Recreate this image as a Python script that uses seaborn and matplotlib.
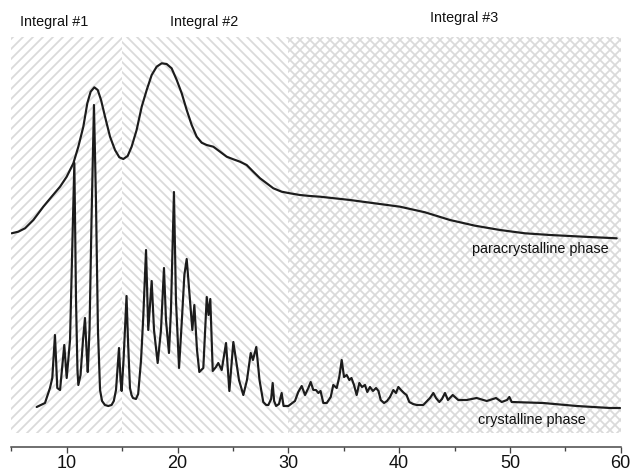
import matplotlib
matplotlib.use("Agg")
import matplotlib.pyplot as plt
import seaborn as sns
import pandas as pd

# ---- data (2-theta in degrees, intensity in arbitrary units) ----
two_theta_para = [5.03, 5.63, 6.24, 6.99, 7.89, 8.64, 9.40, 10.00, 10.60, 11.05,
                  11.50, 11.86, 12.16, 12.49, 12.80, 13.10, 13.46, 13.91, 14.36, 14.75,
                  15.11, 15.50, 15.86, 16.31, 16.77, 17.22, 17.67, 18.12, 18.57, 19.02,
                  19.47, 19.93, 20.38, 20.83, 21.28, 21.73, 22.18, 22.63, 23.23, 23.84,
                  24.44, 25.04, 25.64, 26.24, 26.84, 27.45, 28.05, 28.65, 29.40, 30.15,
                  31.05, 31.96, 32.86, 35.57, 40.08, 42.34, 44.59, 46.85, 49.11, 51.36,
                  53.62, 56.63, 59.64]
intensity_para = [201.7, 203.3, 206.7, 215.0, 228.3, 238.3, 248.3, 258.3, 271.7, 288.3,
                  308.3, 331.7, 343.3, 347.7, 345.0, 335.0, 318.3, 298.3, 285.0, 277.7,
                  276.0, 279.0, 288.3, 305.0, 328.3, 345.0, 360.0, 368.3, 371.7, 371.0,
                  366.7, 355.0, 341.7, 325.0, 310.0, 298.3, 292.3, 290.0, 288.3, 283.3,
                  278.3, 275.7, 273.3, 270.0, 263.3, 256.7, 251.7, 246.7, 243.3, 241.7,
                  240.0, 239.0, 238.3, 235.0, 228.3, 222.7, 215.0, 209.3, 205.0, 201.7,
                  200.0, 198.3, 196.7]

two_theta_cryst = [7.29, 8.04, 8.49, 8.70, 8.94, 9.15, 9.40, 9.78, 10.00, 10.30,
                   10.48, 10.69, 10.84, 10.97, 11.05, 11.25, 11.47, 11.65, 11.79, 11.90,
                   12.06, 12.24, 12.46, 12.64, 12.82, 13.01, 13.19, 13.45, 13.75, 14.05,
                   14.25, 14.45, 14.72, 14.86, 14.96, 15.13, 15.40, 15.53, 15.71, 15.85,
                   15.98, 16.25, 16.45, 16.71, 16.91, 17.16, 17.36, 17.67, 17.88, 18.21,
                   18.51, 18.78, 18.96, 19.23, 19.41, 19.68, 19.86, 20.14, 20.41, 20.62,
                   20.83, 21.13, 21.34, 21.52, 21.76, 21.97, 22.33, 22.64, 22.80, 22.96,
                   23.18, 23.47, 23.68, 23.99, 24.38, 24.68, 25.04, 25.28, 25.55, 25.94,
                   26.27, 26.61, 26.81, 27.11, 27.40, 27.74, 28.00, 28.20, 28.45, 28.59,
                   28.72, 28.90, 29.16, 29.40, 29.57, 30.00, 30.60, 30.90, 31.21, 31.51,
                   31.81, 32.02, 32.26, 32.50, 32.71, 32.91, 33.16, 33.47, 33.83, 34.06,
                   34.37, 34.60, 34.82, 35.03, 35.27, 35.51, 35.70, 35.93, 36.17, 36.41,
                   36.65, 36.92, 37.13, 37.37, 37.64, 37.92, 38.14, 38.34, 38.64, 38.91,
                   39.18, 39.48, 39.72, 39.93, 40.17, 40.44, 40.67, 40.92, 41.26, 41.59,
                   42.18, 42.79, 43.09, 43.33, 43.63, 43.87, 44.14, 44.41, 44.84, 45.34,
                   46.10, 47.00, 47.91, 48.75, 49.26, 49.74, 49.95, 50.16, 53.01, 56.03,
                   59.03, 59.94]
intensity_cryst = [28, 32, 47, 57, 100, 47, 45, 90, 57, 95,
                   175, 272, 135, 65, 50, 60, 95, 117, 85, 63,
                   105, 215, 330, 235, 105, 45, 34, 30, 29, 30,
                   34, 45, 87, 55, 44, 75, 139, 95, 47, 40,
                   37, 36, 41, 75, 118, 185, 105, 154, 105, 72,
                   105, 167, 115, 82, 125, 243, 135, 67, 118, 160,
                   176, 135, 105, 130, 85, 63, 67, 138, 120, 136,
                   64, 68, 72, 65, 92, 44, 93, 75, 55, 40,
                   55, 82, 75, 88, 55, 33, 30, 30, 36, 52,
                   34, 29, 31, 42, 29, 29, 34, 43, 49, 40,
                   47, 53, 45, 45, 42, 44, 32, 32, 38, 50,
                   47, 58, 75, 58, 60, 55, 57, 50, 40, 52,
                   48, 50, 43, 48, 44, 47, 44, 35, 32, 34,
                   38, 45, 42, 48, 45, 42, 40, 33, 31, 30,
                   30, 37, 42, 37, 33, 36, 42, 35, 40, 35,
                   35, 37, 34, 37, 33, 35, 38, 33, 32, 29,
                   27, 27]

region_bounds = [5, 15, 30, 60]
region_labels = ["Integral #1", "Integral #2", "Integral #3"]
region_label_x = [8.9, 22.4, 45.9]
region_label_y = [1.037, 1.037, 1.047]
region_hatches = ["////", "\\\\\\\\", "xxxx"]

phase_labels = ["paracrystalline phase", "crystalline phase"]
phase_label_x = [52.72, 51.99]
phase_label_y = [186, 15]

# ---- style ----
sns.set_style("ticks")
plt.rcParams["font.family"] = ["Liberation Sans", "DejaVu Sans"]
plt.rcParams["hatch.linewidth"] = 1.05
hatch_col = "#dadada"
ink = "#1c1c1c"

fig = plt.figure(figsize=(633 / 120, 474 / 120), dpi=120)
ax = fig.add_axes([11.3 / 633, 1 - 433 / 474, (620.7 - 11.3) / 633, (433 - 37) / 474])

for i in range(3):
    ax.axvspan(region_bounds[i], region_bounds[i + 1], facecolor="none",
               edgecolor=hatch_col, hatch=region_hatches[i], linewidth=0)

df_para = pd.DataFrame({"two_theta": two_theta_para, "intensity": intensity_para})
df_cryst = pd.DataFrame({"two_theta": two_theta_cryst, "intensity": intensity_cryst})
sns.lineplot(data=df_para, x="two_theta", y="intensity", color=ink, lw=1.3,
             estimator=None, ax=ax)
sns.lineplot(data=df_cryst, x="two_theta", y="intensity", color=ink, lw=1.3,
             estimator=None, ax=ax)

ax.set_xlim(5, 60)
ax.set_ylim(2, 398)
ax.set_xticks([10, 20, 30, 40, 50, 60])
ax.set_xticks([5, 15, 25, 35, 45, 55], minor=True)
ax.set_yticks([])
ax.set_xlabel("")
ax.set_ylabel("")
sns.despine(ax=ax, left=True, offset={"bottom": 8.4})
ax.spines["bottom"].set_color("#444444")
ax.spines["bottom"].set_linewidth(0.9)
ax.tick_params(axis="x", which="major", direction="out", length=3.6, width=0.8,
               color="#444444", labelsize=10.8, pad=1, labelcolor="#111111")
ax.tick_params(axis="x", which="minor", direction="out", length=2.4, width=0.8,
               color="#444444")

for lab, x, y in zip(region_labels, region_label_x, region_label_y):
    ax.text(x, y, lab, transform=ax.get_xaxis_transform(), ha="center",
            va="center", fontsize=8.6, color="#111111", clip_on=False)
for lab, x, y in zip(phase_labels, phase_label_x, phase_label_y):
    ax.text(x, y, lab, ha="center", va="center", fontsize=8.6, color="#111111")

fig.savefig("out.png", dpi=120)
